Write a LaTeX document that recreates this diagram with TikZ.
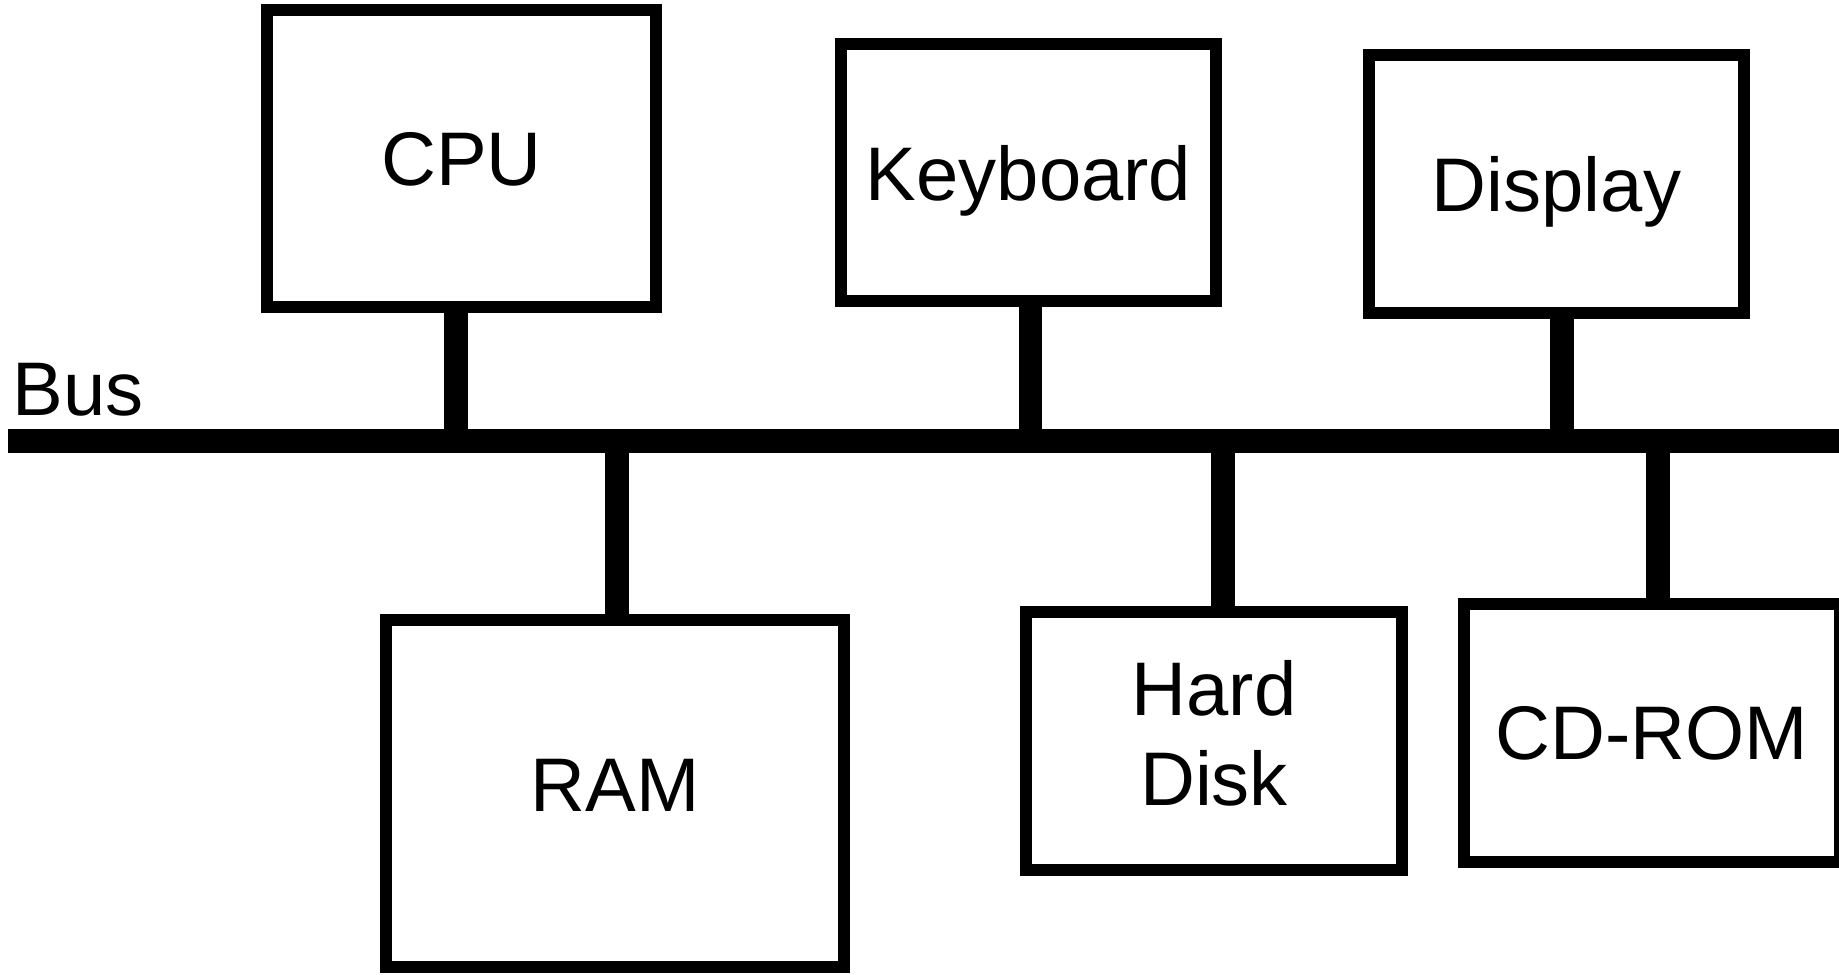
\documentclass[tikz,border=0pt]{standalone}
\usepackage{fontspec}
\setmainfont{Liberation Sans}
\begin{document}
\begin{tikzpicture}[x=0.5pt,y=-0.5pt,
  lbl/.style={font=\fontsize{38}{45}\selectfont},
  box/.style={draw=black, line width=6pt, rectangle, inner sep=0pt,
    text depth=0pt, lbl, align=center},
  link/.style={line width=11.75pt, line cap=butt},
  busline/.style={line width=12pt, line cap=butt}]
\useasboundingbox (0,0) rectangle (1839,974);
% bus
\coordinate (busL) at (8,441);
\coordinate (busR) at (1850,441);
\draw[busline] (busL) -- (busR);
\node[lbl, anchor=base west, inner sep=0pt] (buslabel) at (12,415) {Bus};
% devices
\node[box, minimum width=194.5pt, minimum height=148.5pt] (cpu) at (461.5,158.5) {CPU};
\node[box, minimum width=187.5pt, minimum height=128.5pt] (kbd) at (1028.5,172.5) {Keyboard};
\node[box, minimum width=187.5pt, minimum height=129pt] (disp) at (1556.5,184) {Display};
\node[box, minimum width=229pt, minimum height=173.5pt, text depth=7.7pt] (ram) at (615,793.5) {RAM};
\node[box, minimum width=188pt, minimum height=129.25pt, text depth=7.3pt] (hd) at (1214,740.75) {Hard\\Disk};
\node[box, minimum width=188pt, minimum height=129pt] (cd) at (1652,732.5) {CD-ROM};
% junctions on the bus
\coordinate (jcpu) at (456,441);
\coordinate (jkbd) at (1030.5,441);
\coordinate (jdisp) at (1562,441);
\coordinate (jram) at (617,441);
\coordinate (jhd) at (1223,441);
\coordinate (jcd) at (1658,441);
% connectors
\draw[link] (cpu.south -| jcpu) -- (jcpu);
\draw[link] (kbd.south -| jkbd) -- (jkbd);
\draw[link] (disp.south -| jdisp) -- (jdisp);
\draw[link] (ram.north -| jram) -- (jram);
\draw[link] (hd.north -| jhd) -- (jhd);
\draw[link] (cd.north -| jcd) -- (jcd);
\end{tikzpicture}
\end{document}
